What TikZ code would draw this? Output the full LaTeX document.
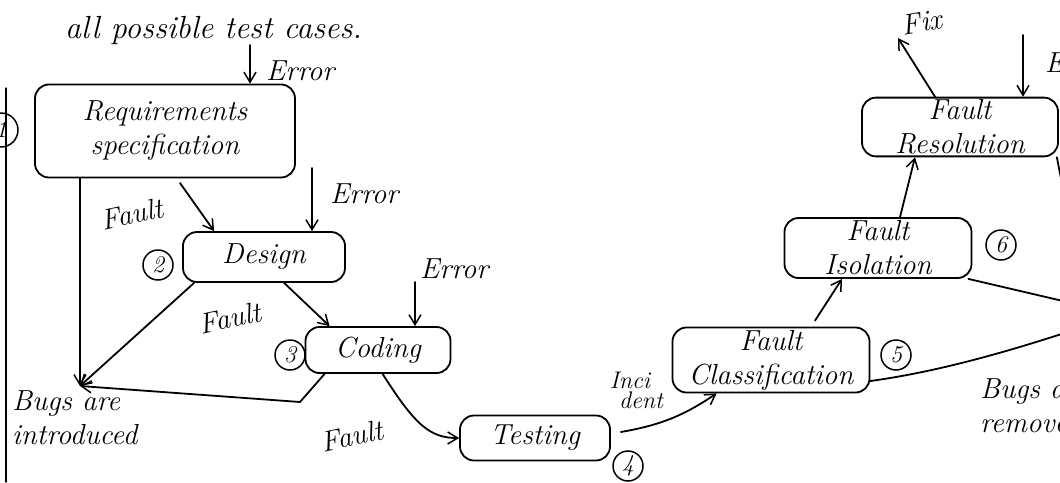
\documentclass[tikz,border=0pt]{standalone}
\usepackage{fontspec}
\usetikzlibrary{arrows.meta,calc}
\newcommand{\hand}{\fontsize{29}{34}\selectfont\itshape}
\newcommand{\handhead}{\fontsize{32}{34}\selectfont\itshape}
\newcommand{\handsm}{\fontsize{24}{24}\selectfont\itshape}
\begin{document}
\begin{tikzpicture}[x=1pt,y=-1pt,
  pen/.style={line width=1.8pt,line cap=round,line join=round},
  arr/.style={pen,-{Straight Barb[length=10pt,width=12pt,line width=1.5pt]}},
  box/.style={pen,draw,rounded corners=14pt,align=center,font=\hand,inner sep=2pt},
  circnum/.style={pen,line width=1.5pt,draw,circle,inner sep=0pt,minimum size=30pt,font=\handsm},
  lbl/.style={font=\hand,inner sep=0pt},
  smalllbl/.style={font=\handsm,inner sep=0pt}]
\useasboundingbox (0,0) rectangle (1060,482);
\clip (0,0) rectangle (1060,482);
\fill[white] (0,0) rectangle (1060,482);

% margin line
\draw[pen,line width=1.2pt] (6,88) -- (6,482);

% header text
\node[font=\handhead,inner sep=0pt,anchor=base west] (head) at (65,38) {all possible test cases.};

% boxes
\node[box,minimum width=260pt,minimum height=93pt] (req) at (165,131) {Requirements\\specification};
\node[box,minimum width=162pt,minimum height=50pt] (design) at (264,257) {Design};
\node[box,minimum width=145pt,minimum height=46pt] (coding) at (378,350) {Coding};
\node[box,minimum width=150pt,minimum height=45pt] (testing) at (535,438) {Testing};
\node[box,minimum width=197pt,minimum height=65pt] (classif) at (771,360) {Fault\\Classification};
\node[box,minimum width=187pt,minimum height=60pt] (isol) at (878,248) {Fault\\Isolation};
\node[box,minimum width=196pt,minimum height=57pt] (resol) at (960,127) {Fault\\Resolution};

% circled numbers
\node[circnum,minimum size=34pt] (n1) at (1,130) {1};
\node[circnum] (n2) at (158,265) {2};
\node[circnum] (n3) at (290,355) {3};
\node[circnum] (n4) at (628,466) {4};
\node[circnum] (n5) at (896,355) {5};
\node[circnum] (n6) at (1001,245) {6};

% coordinates
\coordinate (bugs) at (80,386);
\coordinate (e1) at (250,45);
\coordinate (f1) at (180,183);
\coordinate (e2) at (312,168);
\coordinate (e3) at (415,282);
\coordinate (bend3) at (300,402);
\coordinate (fix) at (898,38);
\coordinate (e7) at (1023,35);
\coordinate (offA) at (1110,312);
\coordinate (offB) at (1110,318);
\coordinate (offC) at (1068,215);

% connectors
\draw[arr] (e1) -- (e1 |- req.north);
\draw[arr] (req.south -| bugs) -- (bugs);
\draw[arr] (f1) -- ([xshift=32pt]design.north west);
\draw[arr] (e2) -- (e2 |- design.north);
\draw[arr] ([xshift=12pt]design.south west) -- (bugs);
\draw[arr] ([xshift=102pt]design.south west) -- ([xshift=25pt]coding.north west);
\draw[arr] (e3) -- (e3 |- coding.north);
\draw[arr] ([xshift=20pt]coding.south west) -- (bend3) -- (bugs);
\draw[arr] ([xshift=78pt]coding.south west) .. controls (415,425) and (430,438) .. (testing.west);
\draw[arr] ([xshift=10pt,yshift=6pt]testing.east) to[bend right=12] ([xshift=45pt]classif.south west);
\draw[arr] ([xshift=44pt,yshift=6pt]classif.north) -- ([xshift=-36pt]isol.south);
\draw[arr] ([xshift=22pt]isol.north) -- ([xshift=-45pt]resol.south);
\draw[arr] ([xshift=-25pt]resol.north) -- (fix);
\draw[arr] (e7) -- (e7 |- resol.north);
\draw[pen] ([xshift=-4pt]isol.south east) -- (offA);
\draw[pen] ([yshift=-21pt]classif.east) .. controls (950,370) and (1030,345) .. (offB);
\draw[pen] ([xshift=-2pt]resol.south east) -- (offC);

% labels
\node[lbl,anchor=base west] (le1) at (266,80) {Error};
\node[lbl,rotate=12] (lf1) at (132,214) {Fault};
\node[lbl,anchor=base west] (le2) at (330,203) {Error};
\node[lbl,rotate=12] (lf2) at (230,318) {Fault};
\node[lbl,anchor=base west] (le3) at (420,278) {Error};
\node[lbl,rotate=12] (lf3) at (352,436) {Fault};
\node[smalllbl] (linc) at (630,380) {Inci};
\node[smalllbl] (ldent) at (641,400) {dent};
\node[lbl,anchor=north west,align=left] (lbugs) at (12,390) {Bugs are\\introduced};
\node[lbl,rotate=10] (lfix) at (922,22) {Fix};
\node[lbl,anchor=base west] (le7) at (1045,72) {Error};
\node[lbl,anchor=north west,align=left] (lrem) at (980,378) {Bugs are\\removed};
\end{tikzpicture}
\end{document}
